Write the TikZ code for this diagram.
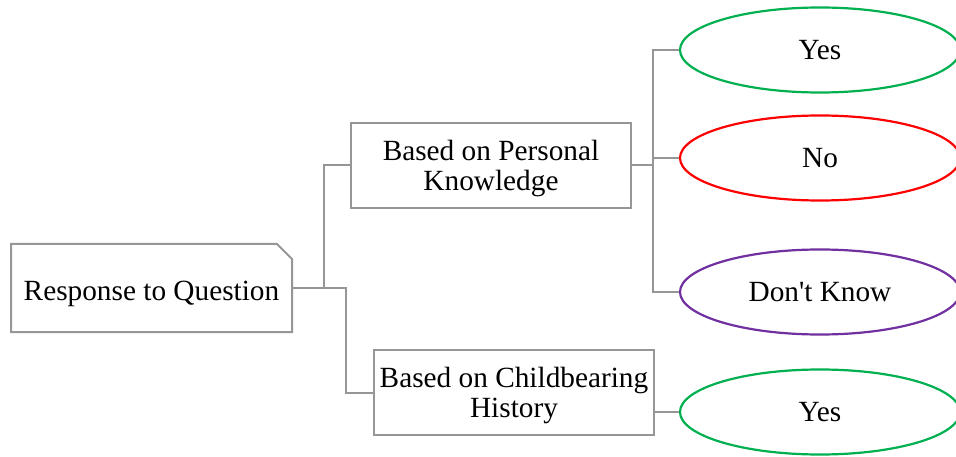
\documentclass[tikz,border=0pt]{standalone}
\usepackage{fontspec}
\setmainfont{Liberation Serif}
\usetikzlibrary{shapes,shapes.geometric,calc,positioning}
\definecolor{ansgreen}{RGB}{0,176,80}
\definecolor{ansred}{RGB}{255,0,0}
\definecolor{anspurple}{RGB}{112,48,160}
\definecolor{linegray}{RGB}{150,150,150}
\tikzset{box/.style={draw=linegray, line width=2pt, rectangle, minimum width=280pt, minimum height=85pt, align=center, inner sep=2pt, text height=49.5pt, text depth=0pt}}
\tikzstyle{ans}=[draw, ellipse, line width=2.2pt, minimum width=280pt, minimum height=85pt, text height=19.5pt, text depth=0pt]
\tikzstyle{conn}=[draw=linegray, line width=2pt]

\begin{document}
\begin{tikzpicture}[x=1pt, y=-1pt, font=\fontsize{29.3}{30}\selectfont]
\useasboundingbox (0,0) rectangle (956,457);
% root note, folded corner drawn by hand
\node[box, draw=none, minimum width=279pt, minimum height=86pt, text height=25pt] (Q) at (151.5,288) {Response to Question};
\draw[conn] (Q.north west) -- ([xshift=-15pt]Q.north east) -- ([yshift=-15pt]Q.north east)
   -- (Q.south east) -- (Q.south west) -- cycle;
\node[box] (P) at (491,165.5) {Based on Personal\\Knowledge};
\node[box] (C) at (514,392.5) {Based on Childbearing\\History};
\node[ans, draw=ansgreen] (Y1) at (820,50) {Yes};
\node[ans, draw=ansred] (N1) at (820,158) {No};
\node[ans, draw=anspurple] (DK) at (820,292) {Don\textquotesingle t Know};
\node[ans, draw=ansgreen] (Y2) at (820,412) {Yes};
\path[conn] (Q.east) -- ++(32,0) |- (P.west)
	(Q.east) -- ++(54,0) |- (C.west)
	(P.east) -- ++(21,0) |- (Y1.west)
	(P.east) -- ++(21,0) |- (N1.west)
	(P.east) -- ++(21,0) |- (DK.west)
	(C.east |- Y2.west) -- (Y2.west);
\end{tikzpicture}
\end{document}
